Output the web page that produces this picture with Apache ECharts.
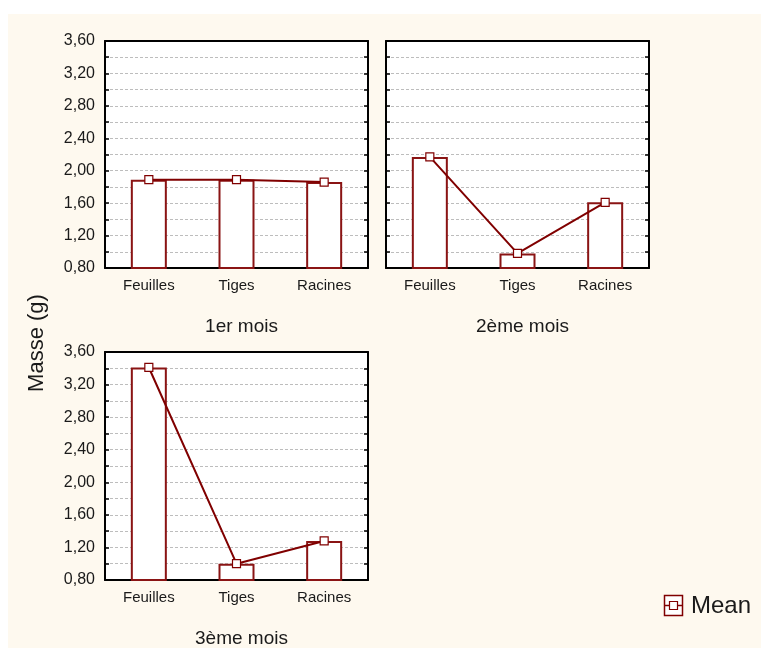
<!DOCTYPE html>
<html>
<head>
<meta charset="utf-8">
<script src="https://cdn.jsdelivr.net/npm/echarts@6/dist/echarts.min.js"></script>
<style>
  html, body { margin: 0; padding: 0; background: #ffffff; }
  #chart { width: 761px; height: 648px; }
</style>
</head>
<body>
<div id="chart"></div>
<script>
// masse moyenne (g) par organe, pour chaque mois
const categories = ['Feuilles', 'Tiges', 'Racines'];
const mois1 = [1.89, 1.89, 1.86];
const mois2 = [2.17, 0.98, 1.61];
const mois3 = [3.41, 1.00, 1.28];
const panelTitles = ['1er mois', '2ème mois', '3ème mois'];
const yMin = 0.8, yMax = 3.6, yStep = 0.4;

const red = '#800000';
const font = '"Liberation Sans", Arial, sans-serif';

const panels = [
    { data: mois1, left: 105, top: 41, width: 263, height: 227, labels: true },
    { data: mois2, left: 386, top: 41, width: 263, height: 227, labels: false },
    { data: mois3, left: 105, top: 352, width: 263, height: 228, labels: true },
];

function fmt(v) {
    return v.toFixed(2).replace('.', ',');
}

let option = {
    backgroundColor: '#ffffff',
    animation: false,
    grid: [],
    xAxis: [],
    yAxis: [],
    series: [],
    title: [],
};

panels.forEach(function (p, i) {
    option.grid.push({ left: p.left, top: p.top, width: p.width, height: p.height,
        show: true, backgroundColor: '#ffffff', borderWidth: 0 });
    // bas
    option.xAxis.push({
        type: 'category', gridIndex: i, data: categories, position: 'bottom',
        axisLine: { lineStyle: { color: '#000', width: 2 } },
        axisTick: { inside: true, alignWithLabel: true, length: 4, lineStyle: { color: '#000', width: 1.5 } },
        axisLabel: { color: '#1a1a1a', fontSize: 15, fontFamily: font, margin: 10 },
    });
    // haut
    option.xAxis.push({
        type: 'category', gridIndex: i, data: categories, position: 'top',
        axisLine: { lineStyle: { color: '#000', width: 2 } },
        axisTick: { inside: true, alignWithLabel: true, length: 4, lineStyle: { color: '#000', width: 1.5 } },
        axisLabel: { show: false },
    });
    option.yAxis.push({
        type: 'value', gridIndex: i, position: 'left',
        min: yMin, max: yMax, interval: yStep,
        axisLine: { show: true, lineStyle: { color: '#000', width: 2 } },
        axisTick: { show: true, inside: true, length: 4, lineStyle: { color: '#000', width: 1.5 } },
        minorTick: { show: true, splitNumber: 2, length: 4, lineStyle: { color: '#000', width: 1.5 } },
        splitLine: { show: true, lineStyle: { color: '#bdbdbd', type: [3, 2], width: 1 } },
        minorSplitLine: { show: true, lineStyle: { color: '#bdbdbd', type: [3, 2], width: 1 } },
        axisLabel: { show: p.labels, color: '#1a1a1a', fontSize: 16, fontFamily: font, margin: 10, formatter: fmt },
    });
    option.yAxis.push({
        type: 'value', gridIndex: i, position: 'right',
        min: yMin, max: yMax, interval: yStep,
        axisLine: { show: true, lineStyle: { color: '#000', width: 2 } },
        axisTick: { show: true, inside: true, length: 4, lineStyle: { color: '#000', width: 1.5 } },
        minorTick: { show: true, splitNumber: 2, length: 4, lineStyle: { color: '#000', width: 1.5 } },
        splitLine: { show: false },
        axisLabel: { show: false },
    });
    option.series.push({
        type: 'bar', xAxisIndex: 2 * i, yAxisIndex: 2 * i,
        data: p.data, barWidth: 36, silent: true,
        itemStyle: { color: '#ffffff', borderColor: '#8a1414', borderWidth: 2 },
        z: 2,
    });
    option.series.push({
        name: 'Mean', type: 'line', xAxisIndex: 2 * i, yAxisIndex: 2 * i,
        data: p.data, symbol: 'rect', symbolSize: 8, showSymbol: true,
        lineStyle: { color: red, width: 2 },
        itemStyle: { color: '#ffffff', borderColor: red, borderWidth: 1.2 },
        z: 3,
    });
    option.title.push({
        text: panelTitles[i],
        left: p.left + p.width / 2,
        top: i < 2 ? 312 : 624,
        textAlign: 'center',
        textStyle: { fontSize: 19, fontWeight: 'normal', color: '#1a1a1a', fontFamily: font },
    });
});

option.graphic = [
    { type: 'rect', z: -10, shape: { x: 8, y: 14, width: 753, height: 634 }, style: { fill: '#fef9ef' } },
    {
        type: 'text', x: 37, y: 343, rotation: Math.PI / 2,
        style: { text: 'Masse (g)', fontSize: 22, fontFamily: font, fill: '#1a1a1a', align: 'center', verticalAlign: 'middle' },
    },
    // légende
    { type: 'rect', shape: { x: 664.5, y: 595.5, width: 18, height: 20 }, style: { fill: '#ffffff', stroke: red, lineWidth: 1.5 } },
    { type: 'line', shape: { x1: 664.5, y1: 605.5, x2: 682.5, y2: 605.5 }, style: { stroke: red, lineWidth: 1.5 } },
    { type: 'rect', shape: { x: 669.5, y: 601.5, width: 8, height: 8 }, style: { fill: '#ffffff', stroke: red, lineWidth: 1.2 } },
    {
        type: 'text', x: 691, y: 606,
        style: { text: 'Mean', fontSize: 24, fontFamily: font, fill: '#1a1a1a', verticalAlign: 'middle' },
    },
];

var myChart = echarts.init(document.getElementById('chart'));
myChart.setOption(option);
</script>
</body>
</html>
